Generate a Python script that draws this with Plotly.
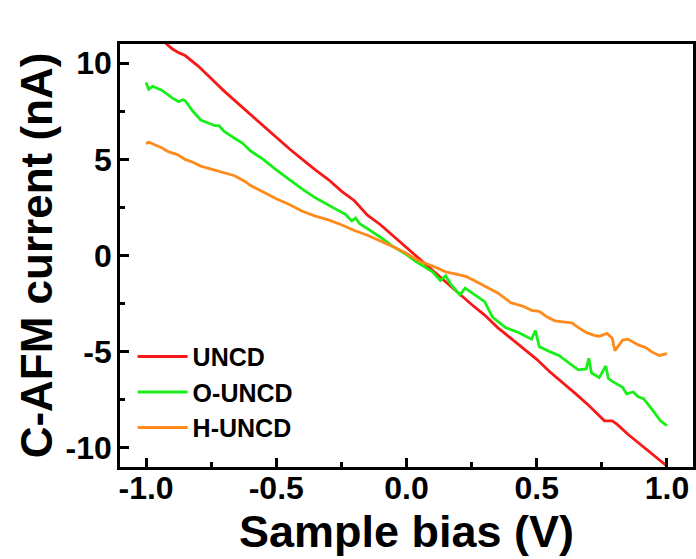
import plotly.graph_objects as go

# ---- data ----
series_names = ["UNCD", "O-UNCD", "H-UNCD"]

uncd_x = [-1.00, -0.95, -0.92, -0.90, -0.875, -0.85, -0.80, -0.775, -0.75, -0.70, -0.65, -0.60,
          -0.55, -0.50, -0.45, -0.40, -0.35, -0.30, -0.25, -0.20, -0.15, -0.10, -0.05, 0.00,
          0.05, 0.10, 0.15, 0.20, 0.25, 0.30, 0.35, 0.40, 0.45, 0.50, 0.55, 0.60, 0.65, 0.70,
          0.74, 0.76, 0.79, 0.81, 0.85, 0.90, 0.95, 1.00]
uncd_y = [11.95, 11.35, 11.0, 10.75, 10.55, 10.4, 9.85, 9.5, 9.2, 8.55, 7.95, 7.3,
          6.75, 6.15, 5.55, 5.0, 4.45, 3.95, 3.35, 2.85, 2.1, 1.6, 1.0, 0.45,
          -0.2, -0.75, -1.35, -1.95, -2.55, -3.1, -3.75, -4.3, -4.85, -5.4, -6.05, -6.6, -7.2, -7.8,
          -8.35, -8.6, -8.6, -8.8, -9.3, -9.85, -10.4, -10.95]

ouncd_x = [-1.00, -0.99, -0.975, -0.965, -0.94, -0.92, -0.90, -0.875, -0.86, -0.85, -0.82, -0.79,
           -0.75, -0.735, -0.72, -0.70, -0.66, -0.63, -0.60, -0.55, -0.50, -0.45, -0.40, -0.35,
           -0.30, -0.27, -0.235, -0.21, -0.195, -0.18, -0.15, -0.10, -0.05, 0.00, 0.035, 0.07,
           0.10, 0.13, 0.15, 0.17, 0.205, 0.225, 0.265, 0.30, 0.33, 0.38, 0.43, 0.48,
           0.495, 0.51, 0.55, 0.585, 0.635, 0.66, 0.69, 0.70, 0.71, 0.74, 0.765, 0.775,
           0.79, 0.83, 0.845, 0.87, 0.89, 0.91, 0.94, 0.96, 0.975, 1.00]
ouncd_y = [9.0, 8.65, 8.8, 8.75, 8.6, 8.4, 8.2, 8.0, 8.1, 8.05, 7.5, 7.05,
           6.85, 6.75, 6.75, 6.45, 6.1, 5.85, 5.45, 5.0, 4.45, 3.95, 3.45, 3.0,
           2.65, 2.4, 2.15, 1.8, 1.95, 1.65, 1.4, 0.95, 0.45, 0.05, -0.3, -0.6,
           -0.85, -1.3, -1.05, -1.5, -2.05, -1.7, -2.05, -2.4, -3.2, -3.75, -4.0, -4.35,
           -3.9, -4.75, -5.0, -5.2, -5.7, -5.95, -5.9, -5.35, -6.1, -6.35, -5.75, -6.4,
           -6.55, -6.85, -7.2, -7.1, -7.35, -7.45, -7.95, -8.35, -8.6, -8.85]

huncd_x = [-1.00, -0.99, -0.965, -0.94, -0.915, -0.88, -0.85, -0.82, -0.79, -0.75, -0.72, -0.69,
           -0.66, -0.62, -0.60, -0.55, -0.50, -0.45, -0.40, -0.35, -0.30, -0.25, -0.20, -0.15,
           -0.10, -0.05, 0.00, 0.05, 0.10, 0.15, 0.20, 0.23, 0.26, 0.30, 0.35, 0.40,
           0.45, 0.48, 0.51, 0.54, 0.57, 0.60, 0.635, 0.66, 0.69, 0.72, 0.74, 0.77,
           0.79, 0.80, 0.81, 0.83, 0.85, 0.87, 0.89, 0.92, 0.94, 0.97, 1.00]
huncd_y = [5.8, 5.9, 5.75, 5.6, 5.4, 5.25, 5.0, 4.85, 4.65, 4.5, 4.4, 4.3,
           4.15, 3.85, 3.65, 3.3, 2.95, 2.65, 2.3, 2.05, 1.85, 1.6, 1.3, 1.05,
           0.75, 0.45, 0.1, -0.3, -0.55, -0.85, -1.0, -1.1, -1.3, -1.6, -1.95, -2.45,
           -2.65, -2.85, -2.9, -3.2, -3.4, -3.45, -3.5, -3.75, -4.0, -4.15, -4.2, -4.05,
           -4.3, -4.95, -4.75, -4.4, -4.35, -4.5, -4.65, -4.8, -5.0, -5.2, -5.1]

x_tick_vals = [-1.0, -0.5, 0.0, 0.5, 1.0]
x_tick_text = ["-1.0", "-0.5", "0.0", "0.5", "1.0"]
x_minor_vals = [-0.75, -0.25, 0.25, 0.75]
y_tick_vals = [-10, -5, 0, 5, 10]
y_tick_text = ["-10", "-5", "0", "5", "10"]
y_minor_vals = [-7.5, -2.5, 2.5, 7.5]

colors = ["#f81818", "#18ee18", "#ff8a1c"]

FONT = "Liberation Sans, Arial, sans-serif"

fig = go.Figure()
for name, xs, ys, c in zip(series_names, [uncd_x, ouncd_x, huncd_x],
                           [uncd_y, ouncd_y, huncd_y], colors):
    fig.add_trace(go.Scatter(x=xs, y=ys, mode="lines", name=name,
                             line=dict(color=c, width=2.8)))

axis_common = dict(
    showline=True, linecolor="black", linewidth=2.6, mirror=True,
    ticks="inside", ticklen=9, tickwidth=2.6, tickcolor="black",
    showgrid=False, zeroline=False, automargin=False,
    tickfont=dict(family=FONT, size=32, color="black", weight="bold"),
    tickmode="array",
)

fig.update_xaxes(
    **axis_common, range=[-1.1, 1.1],
    tickvals=x_tick_vals, ticktext=x_tick_text, ticklabelstandoff=-9,
    minor=dict(tickmode="array", tickvals=x_minor_vals, ticks="inside",
               ticklen=5, tickwidth=2.6, tickcolor="black"),
    title=dict(text="Sample bias (V)", standoff=2,
               font=dict(family=FONT, size=45, color="black", weight="bold")),
)
fig.update_yaxes(
    **axis_common, range=[-11, 11],
    tickvals=y_tick_vals, ticktext=y_tick_text, ticklabelstandoff=-1,
    minor=dict(tickmode="array", tickvals=y_minor_vals, ticks="inside",
               ticklen=5, tickwidth=2.6, tickcolor="black"),
    title=dict(text="C-AFM current (nA)", standoff=0,
               font=dict(family=FONT, size=44, color="black", weight="bold")),
)

fig.update_layout(
    width=696, height=559,
    margin=dict(l=120, r=3, t=44, b=92),
    paper_bgcolor="white", plot_bgcolor="white",
    showlegend=True,
    legend=dict(x=0.022, y=0.315, xanchor="left", yanchor="top",
                bgcolor="rgba(0,0,0,0)", itemwidth=50,
                font=dict(family=FONT, size=25, color="black", weight="bold"),
                tracegroupgap=0),
)

fig.write_html(
    "out.html",
    config={"displayModeBar": False},
    post_script="document.body.style.margin='0';document.body.style.overflow='hidden';",
)
